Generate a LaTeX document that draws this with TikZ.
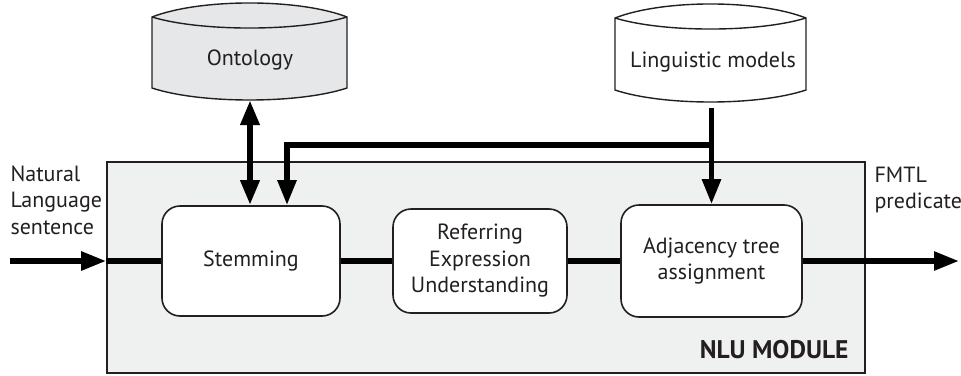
\documentclass[tikz,border=0pt]{standalone}
\usepackage{fontspec}
\setmainfont{PT Sans}
\usetikzlibrary{arrows.meta,calc}
\definecolor{modfill}{HTML}{EFF0F0}
\definecolor{dbfill}{HTML}{E6E7E8}
\definecolor{ink}{HTML}{231F20}

\begin{document}
\begin{tikzpicture}[x=1pt,y=-1pt,
  txt/.style={font=\fontsize{22}{26.5}\selectfont, text=ink},
  stagebox/.style={draw=ink, line width=1.6pt, fill=white, rounded corners=18pt,
    align=center, txt, inner sep=0pt},
  dbshape/.style={draw=ink, line width=1.4pt, line join=miter},
  flow/.style={line width=5.5pt, draw=black},
  tip/.style={-{Triangle[width=18pt,length=25pt]}},
  twotip/.style={{Triangle[width=18pt,length=25pt]}-{Triangle[width=18pt,length=25pt]}}]

\useasboundingbox (0,0) rectangle (961,375);

% NLU module frame
\node[draw=ink, fill=modfill, line width=1.6pt, minimum width=758pt,
  minimum height=211pt, inner sep=0pt] (mod) at (486,267.5) {};
\node[txt, font=\fontsize{25.5}{28}\selectfont\bfseries, anchor=east] (modlabel)
  at (852,350) {NLU MODULE};

% Ontology store
\path[dbshape, fill=dbfill]
  (152,17) .. controls (200,-1.7) and (299,-1.7) .. (347,17)
  -- (347,88) .. controls (299,104) and (200,104) .. (152,88) -- cycle;
\draw[dbshape] (152,17) .. controls (200,31.7) and (299,31.7) .. (347,17);
\node[txt] (onto) at (250,60) {Ontology};
\coordinate (ontoB) at (250,100);

% Linguistic models store
\path[dbshape, fill=white]
  (615,18) .. controls (663,-0.7) and (758,-0.7) .. (806,18)
  -- (806,90) .. controls (758,106) and (663,106) .. (615,90) -- cycle;
\draw[dbshape] (615,18) .. controls (663,32.7) and (758,32.7) .. (806,18);
\node[txt] (ling) at (713,62) {Linguistic models};

% Processing stages
\node[stagebox, minimum width=178pt, minimum height=110pt] (stem) at (251,261) {Stemming};
\node[stagebox, minimum width=174pt, minimum height=104pt] (ref) at (480,261)
  {Referring\\Expression\\Understanding};
\node[stagebox, minimum width=181pt, minimum height=112pt] (adj) at (711.5,261)
  {Adjacency tree\\assignment};

% Outer labels
\node[txt, align=left, anchor=west] (inlabel) at (7,200) {Natural\\Language\\sentence};
\node[txt, align=left, anchor=west] (outlabel) at (871,190) {FMTL\\predicate};

% Coordinates for free ends and the feed line
\coordinate (in) at (10,261);
\coordinate (out) at (959,261);
\coordinate (lingB) at (711.5,108);
\coordinate (jn) at (711.5,145);
\coordinate (st2) at ($(stem.north)+(36,0)$);

% Main flow
\draw[flow, tip] (in) -- (mod.west |- stem.west);
\draw[flow] (mod.west |- stem.west) -- (stem.west);
\draw[flow] (stem.east) -- (ref.west);
\draw[flow] (ref.east) -- (adj.west);
\draw[flow, tip] (adj.east) -- (out);

% Knowledge feeds
\draw[flow, line width=6.5pt, twotip] (ontoB) -- (ontoB |- stem.north);
\draw[flow, tip] (lingB) -- (adj.north);
\draw[flow, tip, line join=miter] (jn) -- (st2 |- jn) -- (st2);
\end{tikzpicture}
\end{document}
